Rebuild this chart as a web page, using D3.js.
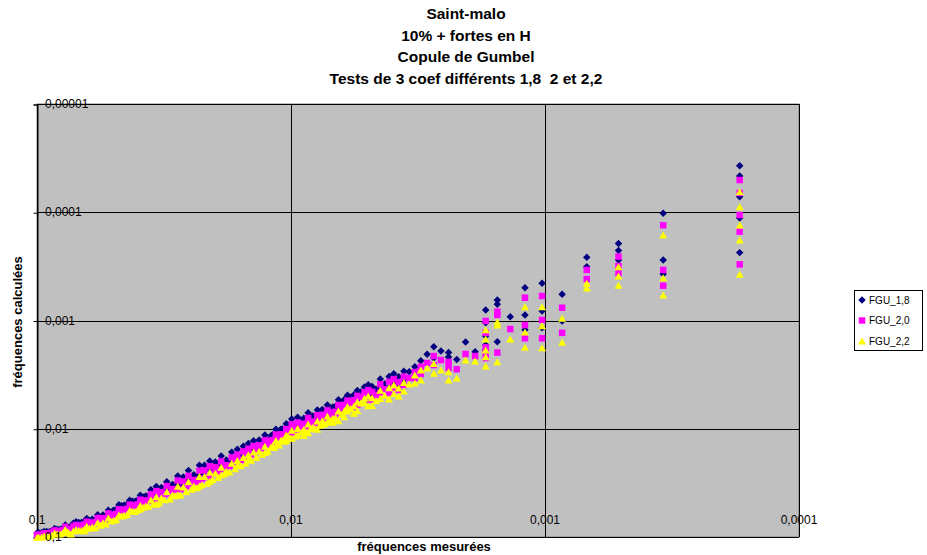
<!DOCTYPE html>
<html>
<head>
<meta charset="utf-8">
<script src="https://cdn.jsdelivr.net/npm/d3@7/dist/d3.min.js"></script>
<style>
  body { margin: 0; background: #fff; }
  svg { display: block; font-family: "Liberation Sans", Arial, sans-serif; }
  .title { white-space: pre; }
</style>
</head>
<body>
<svg id="chart" width="927" height="555"></svg>
<script>
// ---- Chart text ----
const titleLines = ["Saint-malo", "10% + fortes en H", "Copule de Gumbel", "Tests de 3 coef différents 1,8  2 et 2,2"];
const xAxisTitle = "fréquences mesurées";
const yAxisTitle = "fréquences calculées";
const seriesNames = ["FGU_1,8", "FGU_2,0", "FGU_2,2"];

// ---- Axis ticks ----
const xTicks = [0.1, 0.01, 0.001, 0.0001];
const xTickLabels = ["0,1", "0,01", "0,001", "0,0001"];
const yTicks = [0.00001, 0.0001, 0.001, 0.01, 0.1];
const yTickLabels = ["0,00001", "0,0001", "0,001", "0,01", "0,1"];

// ---- Data: measured frequency and the three computed frequencies ----
const freqMesurees = [
  0.0001712, 0.0001712, 0.0001712, 0.0001712, 0.0001712,
  0.0003425, 0.0003425, 0.0003425,
  0.0005137, 0.0005137, 0.0005137,
  0.0006849, 0.0006849,
  0.0008562, 0.0008562,
  0.001027, 0.001027, 0.001027,
  0.001199, 0.001199, 0.001199,
  0.00137,
  0.001541, 0.001541, 0.001541,
  0.001712, 0.001712, 0.001712, 0.001712, 0.001712,
  0.001884, 0.002055, 0.002226, 0.002397, 0.002397,
  0.002568, 0.00274, 0.00274, 0.002911, 0.003082,
  0.003082, 0.003254, 0.003254, 0.003425,
  0.003595, 0.003595, 0.003766, 0.003938, 0.003938,
  0.004109, 0.00428, 0.004451, 0.004451, 0.004794,
  0.004965, 0.005136, 0.005136, 0.005478, 0.00565,
  0.005992, 0.005992, 0.006163, 0.006506, 0.006848,
  0.00719, 0.00719, 0.007533, 0.007533, 0.007875,
  0.008218, 0.00856, 0.008902, 0.009416, 0.009416,
  0.00993, 0.01044, 0.01044, 0.01096, 0.01147,
  0.01198, 0.01267, 0.01267, 0.01335, 0.01404,
  0.01472, 0.01472, 0.01541, 0.01626, 0.01626,
  0.01712, 0.01798, 0.01883, 0.01883, 0.01986,
  0.02089, 0.02089, 0.02191, 0.02294, 0.02294,
  0.02414, 0.02534, 0.02654, 0.02791, 0.02791,
  0.02928, 0.03082, 0.03236, 0.0339, 0.0339,
  0.03561, 0.03732, 0.0392, 0.0392, 0.04109,
  0.04314, 0.04537, 0.04759, 0.04999, 0.05239,
  0.05496, 0.05769, 0.0606, 0.06369, 0.06677,
  0.07019, 0.07362, 0.07738, 0.08115, 0.08526,
  0.08937, 0.09382, 0.09844, 0.09998,
  0.004622, 0.005307, 0.005821, 0.006334, 0.006677,
  0.007019, 0.007362, 0.007704, 0.008046, 0.008389,
  0.008731, 0.009074, 0.009587, 0.0101, 0.01027,
  0.01061, 0.01079, 0.01113, 0.0113, 0.01164,
  0.01181, 0.01233, 0.01301, 0.0137, 0.01438,
  0.01507, 0.01575, 0.01661, 0.01746, 0.01832,
  0.01935, 0.02037, 0.0214, 0.02243, 0.02345,
  0.02465, 0.02585, 0.02722, 0.02859, 0.02996,
  0.0315, 0.03304, 0.03475, 0.03647, 0.03818,
  0.04006, 0.04212, 0.04417, 0.0464, 0.04879,
  0.05119, 0.05359, 0.05632, 0.05906, 0.06215,
  0.06523, 0.06848, 0.0719, 0.0755, 0.07927,
  0.0832, 0.08731, 0.09159, 0.09604,
  0.003766, 0.004109, 0.004794, 0.004965, 0.005478,
  0.00565, 0.006163, 0.006506, 0.006848, 0.007875,
  0.00856, 0.008902, 0.00993, 0.0755, 0.06523
];

const fgu18 = [
  3.72e-5, 4.62e-5, 7.18e-5, 1.13e-4, 2.36e-4,
  1.02e-4, 2.76e-4, 3.72e-4,
  1.94e-4, 2.26e-4, 2.76e-4,
  2.61e-4, 3.18e-4,
  5.73e-4, 1.01e-3,
  4.53e-4, 8.17e-4, 1.17e-3,
  4.98e-4, 8.89e-4, 1.22e-3,
  9.23e-4,
  6.47e-4, 7.08e-4, 1.57e-3,
  8.00e-4, 1.05e-3, 1.39e-3, 1.68e-3, 1.87e-3,
  1.94e-3, 1.58e-3, 2.29e-3, 1.98e-3, 2.17e-3,
  1.91e-3, 1.75e-3, 2.22e-3, 2.05e-3, 2.35e-3,
  2.75e-3, 2.67e-3, 2.99e-3, 2.97e-3,
  0.002948, 0.003523, 0.003314, 0.003111, 0.003741,
  0.003287, 0.003852, 0.003472, 0.00414, 0.004075,
  0.003922, 0.00452, 0.004109, 0.004437, 0.004859,
  0.004913, 0.005393, 0.005362, 0.0054, 0.0063,
  0.00604, 0.00683, 0.006629, 0.007156, 0.006694,
  0.007643, 0.007105, 0.008012, 0.007815, 0.008945,
  0.008143, 0.008978, 0.01013, 0.01008, 0.01009,
  0.01162, 0.0114, 0.01305, 0.01268, 0.01292,
  0.01501, 0.01369, 0.01449, 0.01707, 0.01545,
  0.01644, 0.01942, 0.01789, 0.02109, 0.02026,
  0.01985, 0.02402, 0.02169, 0.02179, 0.02661,
  0.02655, 0.02433, 0.02787, 0.02735, 0.03265,
  0.03279, 0.03082, 0.03495, 0.03424, 0.04,
  0.03668, 0.0418, 0.04116, 0.0443, 0.04684,
  0.04573, 0.05081, 0.05045, 0.05649, 0.05658,
  0.06265, 0.06231, 0.06848, 0.06751, 0.07345,
  0.0723, 0.07951, 0.07738, 0.08521, 0.08355,
  0.08937, 0.08913, 0.09155, 0.09198,
  0.004345, 0.004564, 0.005122, 0.005827, 0.00621,
  0.006598, 0.007068, 0.007319, 0.007805, 0.007886,
  0.008382, 0.008439, 0.009204, 0.009595, 0.009243,
  0.01029, 0.01003, 0.01113, 0.01074, 0.01176,
  0.01134, 0.0127, 0.01353, 0.01452, 0.01539,
  0.01643, 0.01733, 0.01844, 0.01973, 0.02052,
  0.02225, 0.02322, 0.02504, 0.02579, 0.02767,
  0.02859, 0.03076, 0.03294, 0.03345, 0.03595,
  0.03654, 0.03899, 0.03996, 0.04194, 0.04276,
  0.04527, 0.04675, 0.04991, 0.0515, 0.05562,
  0.0604, 0.06431, 0.06589, 0.06969, 0.07023,
  0.07175, 0.07327, 0.07478, 0.08154, 0.08323,
  0.08486, 0.08731, 0.08884, 0.09124,
  0.003917, 0.004191, 0.004794, 0.004816, 0.005368,
  0.00565, 0.006101, 0.006636, 0.006848, 0.007954,
  0.00856, 0.00908, 0.009632, 0.0823, 0.07436
];

const fgu20 = [
  5.04e-5, 6.64e-5, 1.06e-4, 1.51e-4, 3.03e-4,
  1.32e-4, 3.41e-4, 4.77e-4,
  2.57e-4, 3.14e-4, 3.66e-4,
  3.41e-4, 4.14e-4,
  7.62e-4, 1.30e-3,
  5.94e-4, 9.89e-4, 1.46e-3,
  6.16e-4, 1.10e-3, 1.46e-3,
  1.20e-3,
  8.29e-4, 8.89e-4, 1.98e-3,
  1.01e-3, 1.30e-3, 1.77e-3, 1.95e-3, 2.22e-3,
  2.13e-3, 2.04e-3, 2.82e-3, 2.42e-3, 2.75e-3,
  2.32e-3, 2.13e-3, 2.58e-3, 2.47e-3, 2.67e-3,
  3.12e-3, 2.99e-3, 3.40e-3, 3.40e-3,
  0.003302, 0.003946, 0.003712, 0.003484, 0.00419,
  0.003682, 0.004314, 0.003888, 0.004636, 0.004564,
  0.004393, 0.005062, 0.004602, 0.00497, 0.005442,
  0.005503, 0.00604, 0.006005, 0.006048, 0.007056,
  0.006764, 0.00765, 0.007425, 0.008015, 0.007497,
  0.00856, 0.007957, 0.008973, 0.008753, 0.01002,
  0.00912, 0.01006, 0.01134, 0.01129, 0.0113,
  0.01301, 0.01277, 0.01462, 0.0142, 0.01447,
  0.01681, 0.01533, 0.01622, 0.01912, 0.0173,
  0.01841, 0.02175, 0.02004, 0.02362, 0.02269,
  0.02223, 0.0269, 0.02429, 0.02441, 0.0298,
  0.02974, 0.02725, 0.03066, 0.03009, 0.03592,
  0.03607, 0.0339, 0.03844, 0.03766, 0.044,
  0.04035, 0.04598, 0.04528, 0.04873, 0.05153,
  0.0503, 0.05589, 0.05549, 0.06214, 0.06054,
  0.06704, 0.06667, 0.07327, 0.07224, 0.07859,
  0.07736, 0.08508, 0.08048, 0.08862, 0.08689,
  0.09294, 0.0927, 0.09521, 0.09566,
  0.004866, 0.005112, 0.005737, 0.006526, 0.006955,
  0.00739, 0.007916, 0.008197, 0.008742, 0.008832,
  0.009388, 0.009452, 0.01031, 0.01075, 0.01035,
  0.01153, 0.01124, 0.01247, 0.01202, 0.01317,
  0.0127, 0.01422, 0.01515, 0.01626, 0.01723,
  0.0184, 0.01941, 0.02065, 0.0221, 0.02298,
  0.02492, 0.02601, 0.02804, 0.02888, 0.03099,
  0.03202, 0.03384, 0.03623, 0.0368, 0.03955,
  0.04019, 0.04289, 0.04396, 0.04613, 0.04704,
  0.0498, 0.05143, 0.0549, 0.05665, 0.06118,
  0.06463, 0.06881, 0.0705, 0.07457, 0.07515,
  0.07677, 0.0784, 0.08001, 0.0848, 0.08656,
  0.08826, 0.0908, 0.09239, 0.09489,
  0.004387, 0.004694, 0.005369, 0.005394, 0.006012,
  0.006328, 0.006833, 0.007432, 0.00767, 0.008908,
  0.009587, 0.01017, 0.01079, 0.08559, 0.07957
];

const fgu22 = [
  6.46e-5, 8.89e-5, 1.31e-4, 1.80e-4, 3.74e-4,
  1.62e-4, 4.03e-4, 5.81e-4,
  3.18e-4, 3.88e-4, 4.73e-4,
  4.53e-4, 5.01e-4,
  9.55e-4, 1.59e-3,
  7.45e-4, 1.12e-3, 1.79e-3,
  7.45e-4, 1.28e-3, 1.77e-3,
  1.48e-3,
  1.03e-3, 1.10e-3, 2.40e-3,
  1.22e-3, 1.48e-3, 1.87e-3, 2.16e-3, 2.63e-3,
  2.37e-3, 2.32e-3, 3.40e-3, 2.97e-3, 3.55e-3,
  2.87e-3, 2.49e-3, 3.07e-3, 2.75e-3, 2.87e-3,
  3.55e-3, 3.19e-3, 3.78e-3, 3.86e-3,
  0.003744, 0.004474, 0.004209, 0.003951, 0.004751,
  0.004175, 0.004892, 0.004409, 0.005258, 0.005175,
  0.004981, 0.00574, 0.005218, 0.005635, 0.006171,
  0.00624, 0.006849, 0.00681, 0.006858, 0.008001,
  0.00767, 0.008675, 0.008419, 0.009088, 0.008501,
  0.009706, 0.009023, 0.01018, 0.009925, 0.01136,
  0.01034, 0.0114, 0.01286, 0.0128, 0.01282,
  0.01476, 0.01448, 0.01657, 0.0161, 0.01641,
  0.01907, 0.01739, 0.0184, 0.02168, 0.01962,
  0.02088, 0.02466, 0.02272, 0.02678, 0.02573,
  0.02521, 0.03051, 0.02755, 0.02768, 0.0338,
  0.03372, 0.0309, 0.03456, 0.03391, 0.04049,
  0.04066, 0.03822, 0.04334, 0.04246, 0.0496,
  0.04548, 0.05183, 0.05104, 0.05493, 0.05808,
  0.0567, 0.063, 0.06256, 0.07005, 0.06677,
  0.07393, 0.07353, 0.08081, 0.07966, 0.08667,
  0.08531, 0.09382, 0.08512, 0.09373, 0.09191,
  0.09831, 0.09804, 0.1007, 0.1012,
  0.005518, 0.005796, 0.006505, 0.0074, 0.007886,
  0.008379, 0.008976, 0.009295, 0.009912, 0.01002,
  0.01065, 0.01072, 0.01169, 0.01219, 0.01174,
  0.01307, 0.01274, 0.01414, 0.01363, 0.01493,
  0.0144, 0.01613, 0.01718, 0.01844, 0.01954,
  0.02086, 0.02201, 0.02342, 0.02506, 0.02606,
  0.02826, 0.02949, 0.0318, 0.03275, 0.03514,
  0.03631, 0.03814, 0.04085, 0.04148, 0.04458,
  0.04531, 0.04835, 0.04955, 0.05201, 0.05302,
  0.05613, 0.05797, 0.06189, 0.06386, 0.06897,
  0.07127, 0.07589, 0.07775, 0.08223, 0.08287,
  0.08467, 0.08646, 0.08824, 0.08969, 0.09156,
  0.09335, 0.09604, 0.09772, 0.1004,
  0.004974, 0.005323, 0.006088, 0.006116, 0.006818,
  0.007176, 0.007748, 0.008428, 0.008697, 0.0101,
  0.01087, 0.01153, 0.01223, 0.09053, 0.08774
];

// ---- Layout ----
const svg = d3.select("#chart");
const plot = { left: 37, right: 799, top: 104, bottom: 537 };

// Both axes are logarithmic and run from rare (right / top) to frequent (left / bottom)
const x = d3.scaleLog().domain([0.1, 0.0001]).range([plot.left, plot.right]);
const y = d3.scaleLog().domain([0.00001, 0.1]).range([plot.top, plot.bottom]);

// Marker shapes
const diamondType = { draw(ctx, size) { const r = Math.sqrt(size) / 2;
  ctx.moveTo(0, -r); ctx.lineTo(r, 0); ctx.lineTo(0, r); ctx.lineTo(-r, 0); ctx.closePath(); } };
const squareType = { draw(ctx, size) { const r = Math.sqrt(size) / 2;
  ctx.rect(-r, -r, 2 * r, 2 * r); } };
const triangleType = { draw(ctx, size) { const w = Math.sqrt(size) + 1, h = Math.sqrt(size);
  ctx.moveTo(0, -h / 2); ctx.lineTo(w / 2, h / 2); ctx.lineTo(-w / 2, h / 2); ctx.closePath(); } };

const series = [
  { name: seriesNames[0], values: fgu18, color: "#000080", type: diamondType, size: 56 },
  { name: seriesNames[1], values: fgu20, color: "#FF00FF", type: squareType, size: 42 },
  { name: seriesNames[2], values: fgu22, color: "#FFFF00", type: triangleType, size: 49 }
];

// Plot area
svg.append("rect")
  .attr("x", plot.left).attr("y", plot.top)
  .attr("width", plot.right - plot.left).attr("height", plot.bottom - plot.top)
  .attr("fill", "#C0C0C0").attr("stroke", "#808080").attr("stroke-width", 1);

// Gridlines
svg.append("g").selectAll("line").data(yTicks).join("line")
  .attr("x1", plot.left).attr("x2", plot.right)
  .attr("y1", d => Math.round(y(d)) + 0.5).attr("y2", d => Math.round(y(d)) + 0.5)
  .attr("stroke", "#000").attr("stroke-width", 1);
svg.append("g").selectAll("line").data(xTicks).join("line")
  .attr("x1", d => Math.round(x(d)) + 0.5).attr("x2", d => Math.round(x(d)) + 0.5)
  .attr("y1", plot.top).attr("y2", plot.bottom)
  .attr("stroke", "#000").attr("stroke-width", 1);

// Left axis with outside tick marks
const yAxis = d3.axisLeft(y).tickValues(yTicks).tickSize(4).tickFormat("");
svg.append("g").attr("transform", `translate(${plot.left + 0.5},0.5)`).call(yAxis)
  .call(g => g.select(".domain").attr("stroke", "#000"))
  .call(g => g.selectAll(".tick line").attr("stroke", "#000"));
svg.append("line")
  .attr("x1", plot.left).attr("x2", plot.right)
  .attr("y1", plot.bottom + 0.5).attr("y2", plot.bottom + 0.5)
  .attr("stroke", "#000");

// Points, one series after the other
series.forEach(s => {
  const sym = d3.symbol().type(s.type).size(s.size);
  svg.append("g").selectAll("path").data(freqMesurees).join("path")
    .attr("d", sym)
    .attr("transform", (d, i) => `translate(${x(d)},${y(s.values[i])})`)
    .attr("fill", s.color);
});

// Tick labels
svg.append("g").selectAll("text").data(yTicks).join("text")
  .attr("x", plot.left + 8).attr("y", d => y(d))
  .attr("dy", "0.35em")
  .attr("font-size", 12).attr("fill", "#000")
  .text((d, i) => yTickLabels[i]);
svg.append("g").selectAll("text").data(xTicks).join("text")
  .attr("x", d => x(d)).attr("y", plot.bottom - 17)
  .attr("dy", "0.35em").attr("text-anchor", "middle")
  .attr("font-size", 12).attr("fill", "#000")
  .text((d, i) => xTickLabels[i]);

// Titles
svg.append("g").selectAll("text").data(titleLines).join("text")
  .attr("class", "title")
  .attr("x", 466).attr("y", (d, i) => 19 + i * 21.5)
  .attr("text-anchor", "middle").attr("font-weight", "bold").attr("font-size", 15.5)
  .text(d => d);

svg.append("text")
  .attr("x", 424).attr("y", 551)
  .attr("text-anchor", "middle").attr("font-weight", "bold").attr("font-size", 13)
  .text(xAxisTitle);

svg.append("text")
  .attr("transform", "translate(22,322) rotate(-90)")
  .attr("text-anchor", "middle").attr("font-weight", "bold").attr("font-size", 13)
  .text(yAxisTitle);

// Legend
const legend = svg.append("g").attr("transform", "translate(854,290)");
legend.append("rect").attr("x", 0.5).attr("y", 0.5).attr("width", 68).attr("height", 60)
  .attr("fill", "#fff").attr("stroke", "#000");
series.forEach((s, i) => {
  const cy = 10 + i * 20.5;
  legend.append("path")
    .attr("d", d3.symbol().type(s.type).size(s.size)())
    .attr("transform", `translate(8,${cy})`)
    .attr("fill", s.color);
  legend.append("text")
    .attr("x", 15).attr("y", cy).attr("dy", "0.35em")
    .attr("font-size", 10).attr("fill", "#000")
    .text(s.name);
});
</script>
</body>
</html>
